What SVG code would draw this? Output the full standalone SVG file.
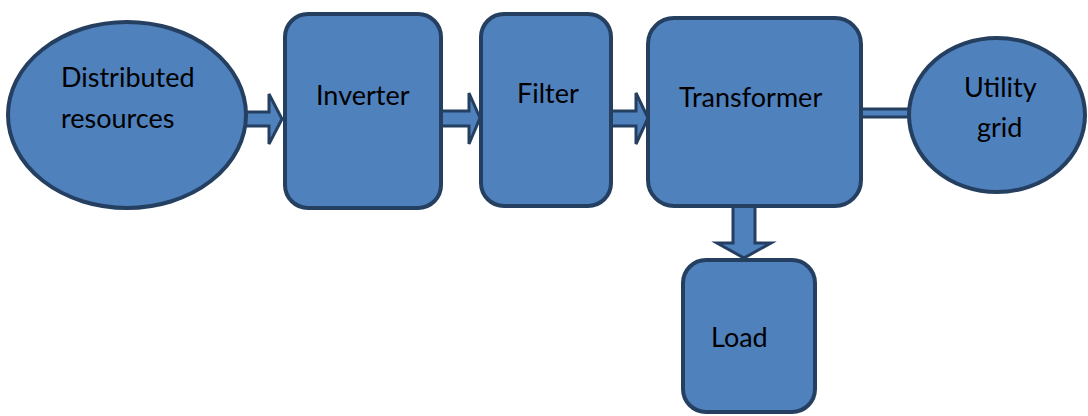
<svg xmlns="http://www.w3.org/2000/svg" width="1088" height="416" viewBox="0 0 1088 416">
<style>
.n{fill:#4F81BD;stroke:#243F60;stroke-width:4}
.c{fill:#4F81BD;stroke:#243F60;stroke-width:3;stroke-linejoin:miter}
.t{font-family:Lato,"Open Sans",sans-serif;font-size:27px;fill:#000}
</style>
<rect width="1088" height="416" fill="#fff"/>
<g id="connectors">
<polygon class="c" points="240,112 269,112 269,94 282,119 269,144 269,126 240,126"/>
<polygon class="c" points="441,111 469,111 469,93 480,118 469,144 469,126 441,126"/>
<polygon class="c" points="610,111 636,111 636,93 648,118 636,144 636,126 610,126"/>
<rect class="c" x="858" y="109" width="54" height="8"/>
<polygon class="c" points="733,205 755,205 755,243 771,243 744,258 717,243 733,243"/>
</g>
<g id="distributed">
<ellipse class="n" cx="127" cy="115" rx="119" ry="93"/>
<text class="t" x="61" y="87">Distributed</text>
<text class="t" x="61" y="128">resources</text>
</g>
<g id="inverter">
<rect class="n" x="285" y="14" width="156" height="194" rx="23"/>
<text class="t" x="316" y="105">Inverter</text>
</g>
<g id="filter">
<rect class="n" x="481" y="14" width="130" height="192" rx="23"/>
<text class="t" x="517" y="103">Filter</text>
</g>
<g id="transformer">
<rect class="n" x="648" y="18" width="213" height="188" rx="26"/>
<text class="t" x="679" y="107">Transformer</text>
</g>
<g id="grid">
<ellipse class="n" cx="997" cy="115" rx="88" ry="77"/>
<text class="t" x="964" y="97">Utility</text>
<text class="t" x="977" y="137">grid</text>
</g>
<g id="load">
<rect class="n" x="683" y="260" width="132" height="152" rx="23"/>
<text class="t" x="711" y="347">Load</text>
</g>
</svg>
